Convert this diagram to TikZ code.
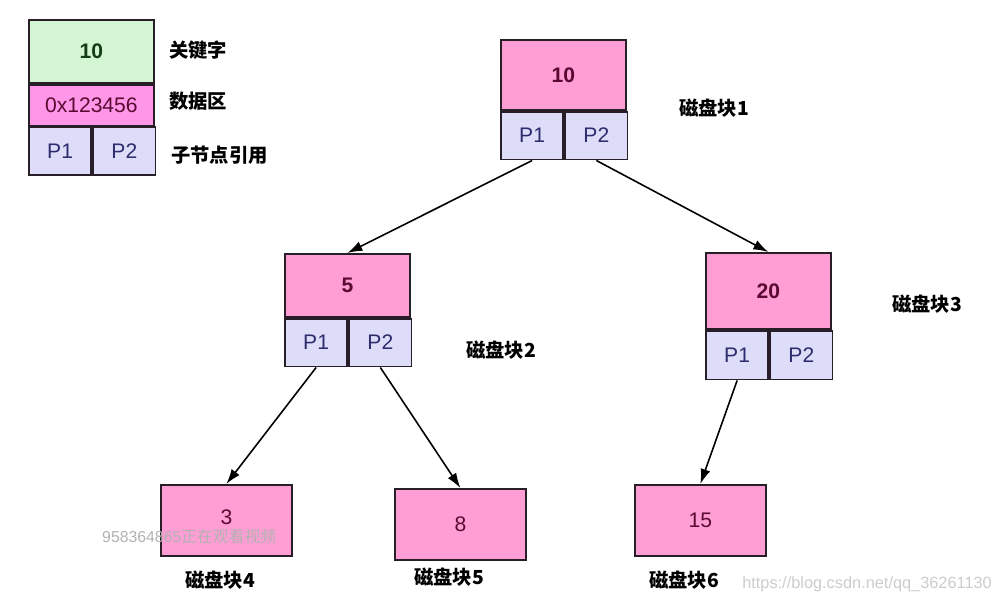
\documentclass[tikz,border=0pt]{standalone}
\usepackage{fontspec}
\setmainfont{Liberation Sans}
\newfontfamily\cjk{Noto Sans CJK SC}
\usetikzlibrary{arrows.meta}
\definecolor{keygreen}{RGB}{212,245,212}
\definecolor{keypink}{RGB}{255,158,212}
\definecolor{datapink}{RGB}{255,150,232}
\definecolor{ptrblue}{RGB}{221,221,250}
\definecolor{boxline}{RGB}{40,30,40}
\definecolor{numtext}{RGB}{90,10,50}
\definecolor{ptrtext}{RGB}{45,45,110}
\definecolor{legtext}{RGB}{20,60,20}

\begin{document}
\begin{tikzpicture}[x=0.02cm,y=-0.02cm,
  cell/.style={draw=boxline, line width=1pt, anchor=north west, inner sep=0pt, font=\fontsize{12}{14}\selectfont},
  keybox/.style={cell, fill=keypink, text=numtext, minimum width=2.5cm, font=\fontsize{12}{14}\selectfont\bfseries},
  ptrbox/.style={cell, fill=ptrblue, text=ptrtext, minimum width=1.25cm, minimum height=0.96cm},
  leafbox/.style={cell, fill=keypink, text=numtext, minimum width=2.62cm, minimum height=1.42cm},
  blocklabel/.style={anchor=west, font=\cjk\bfseries\fontsize{11}{13}\selectfont},
  link/.style={-{Latex[length=3mm,width=2mm]}, line width=0.9pt}]
\useasboundingbox (0,0) rectangle (1008,605);

% legend
\node[keybox, fill=keygreen, text=legtext, minimum height=1.26cm] (legkey) at (28,19) {10};
\node[cell, anchor=north, fill=datapink, text=numtext, minimum width=2.5cm, minimum height=0.82cm] (legdata) at (legkey.south) {0x123456};
\node[ptrbox] (legp1) at (legdata.south west) {P1};
\node[ptrbox] (legp2) at (legp1.north east) {P2};
\node[blocklabel] (legkeylbl) at (163,50) {关键字};
\node[blocklabel] (legdatalbl) at (163,101) {数据区};
\node[blocklabel] (legptrlbl) at (165,155) {子节点引用};

% block 1
\node[keybox, minimum height=1.4cm] (k1) at (500,39) {10};
\node[ptrbox] (p11) at (k1.south west) {P1};
\node[ptrbox] (p12) at (p11.north east) {P2};
\node[blocklabel] (lbl1) at (673,108) {磁盘块1};

% block 2
\node[keybox, minimum height=1.26cm] (k2) at (284,253) {5};
\node[ptrbox] (p21) at (k2.south west) {P1};
\node[ptrbox] (p22) at (p21.north east) {P2};
\node[blocklabel] (lbl2) at (460,350) {磁盘块2};

% block 3
\node[keybox, minimum height=1.52cm] (k3) at (705,252) {20};
\node[ptrbox, minimum height=0.98cm] (p31) at (k3.south west) {P1};
\node[ptrbox, minimum height=0.98cm] (p32) at (p31.north east) {P2};
\node[blocklabel] (lbl3) at (886,304) {磁盘块3};

% leaves
\node[leafbox] (k4) at (160,484) {\raisebox{4pt}{3}};
\node[leafbox] (k5) at (394,488) {8};
\node[leafbox] (k6) at (634,484) {15};
\node[blocklabel] (lbl4) at (179,580) {磁盘块4};
\node[blocklabel] (lbl5) at (408,577) {磁盘块5};
\node[blocklabel] (lbl6) at (643,580) {磁盘块6};

% links
\draw[link] (p11.south) -- (k2.north);
\draw[link] (p12.south) -- (k3.north);
\draw[link] (p21.south) -- (k4.north);
\draw[link] (p22.south) -- (k5.north);
\draw[link] (p31.south) -- (k6.north);

% overlays
\node[anchor=west, text=black!30, font=\fontsize{9}{11}\selectfont] (viewer) at (96,537) {958364865{\cjk 正在观看视频}};
\node[anchor=east, text=black!20, font=\fontsize{9.3}{11}\selectfont] (url) at (998,584) {https://blog.csdn.net/qq\_36261130};
\end{tikzpicture}
\end{document}
